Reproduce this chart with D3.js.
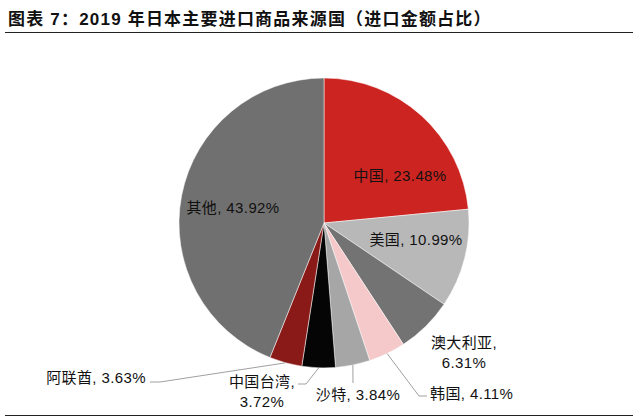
<!DOCTYPE html>
<html>
<head>
<meta charset="utf-8">
<script src="https://cdn.jsdelivr.net/npm/d3@7"></script>
<style>
body { margin: 0; background: #fff; }
text { font-family: "Liberation Sans", Arial, "Noto Sans CJK SC", sans-serif; }
</style>
</head>
<body>
<div id="wrapper"></div>
<script>
const countries = ["中国", "美国", "澳大利亚", "韩国", "沙特", "中国台湾", "阿联酋", "其他"];
const shares = [23.48, 10.99, 6.31, 4.11, 3.84, 3.72, 3.63, 43.92];
const colors = ["#cc2420", "#b8b8b8", "#737373", "#f5c8ca", "#a6a6a6", "#050505", "#8a1a18", "#707070"];

// label layout: text lines, position, anchor, leader bend points
const labelLayout = [
    {lines: ["中国, 23.48%"], x: 400, y: 176, anchor: "middle"},
    {lines: ["美国, 10.99%"], x: 416, y: 240, anchor: "middle"},
    {lines: ["澳大利亚,", "6.31%"], x: 464, y: 343, anchor: "middle"},
    {lines: ["韩国, 4.11%"], x: 430, y: 394, anchor: "start", leader: [[427, 396], [419, 396]]},
    {lines: ["沙特, 3.84%"], x: 358, y: 395, anchor: "middle", leader: [[353, 383]]},
    {lines: ["中国台湾,", "3.72%"], x: 262, y: 382, anchor: "middle", leader: [[298, 384], [306, 384]]},
    {lines: ["阿联酋, 3.63%"], x: 146, y: 378, anchor: "end", leader: [[150, 382], [160, 382]]},
    {lines: ["其他, 43.92%"], x: 233, y: 208, anchor: "middle"}
];

const width = 640, height = 418;
const cx = 324, cy = 223, radius = 145;

const svg = d3.select("#wrapper")
    .append("svg")
    .attr("width", width)
    .attr("height", height);

// title
svg.append("text")
    .attr("x", 8)
    .attr("y", 25)
    .attr("font-size", 17)
    .attr("font-weight", "bold")
    .attr("letter-spacing", 1.2)
    .attr("fill", "#111")
    .text("图表 7：2019 年日本主要进口商品来源国（进口金额占比）");

svg.append("line")
    .attr("x1", 5).attr("x2", 633)
    .attr("y1", 32.5).attr("y2", 32.5)
    .attr("stroke", "#222").attr("stroke-width", 1);

svg.append("line")
    .attr("x1", 5).attr("x2", 633)
    .attr("y1", 415.5).attr("y2", 415.5)
    .attr("stroke", "#222").attr("stroke-width", 1);

const data = countries.map((c, i) => ({name: c, value: shares[i], color: colors[i], label: labelLayout[i]}));

const pie = d3.pie().sort(null).value(d => d.value);
const arc = d3.arc().innerRadius(0).outerRadius(radius);
const edgeArc = d3.arc().innerRadius(radius).outerRadius(radius);

const arcs = pie(data);

const g = svg.append("g").attr("transform", `translate(${cx},${cy})`);

g.selectAll("path")
    .data(arcs)
    .enter()
    .append("path")
    .attr("d", arc)
    .attr("fill", d => d.data.color)
    .attr("stroke", "#fff")
    .attr("stroke-width", 0.5);

// leader lines
const line = d3.line();
arcs.forEach(d => {
    const lb = d.data.label;
    if (!lb.leader) return;
    const c = edgeArc.centroid(d);
    const pts = lb.leader.concat([[c[0] + cx, c[1] + cy]]);
    svg.append("path")
        .attr("d", line(pts))
        .attr("fill", "none")
        .attr("stroke", "#a0a0a0")
        .attr("stroke-width", 1);
});

// labels
arcs.forEach(d => {
    const lb = d.data.label;
    const t = svg.append("text")
        .attr("font-size", 15)
        .attr("letter-spacing", 0.4)
        .attr("fill", "#111")
        .attr("text-anchor", lb.anchor);
    lb.lines.forEach((s, i) => {
        t.append("tspan")
            .attr("x", lb.x)
            .attr("y", lb.y + i * 20)
            .attr("dy", "0.35em")
            .text(s);
    });
});
</script>
</body>
</html>
